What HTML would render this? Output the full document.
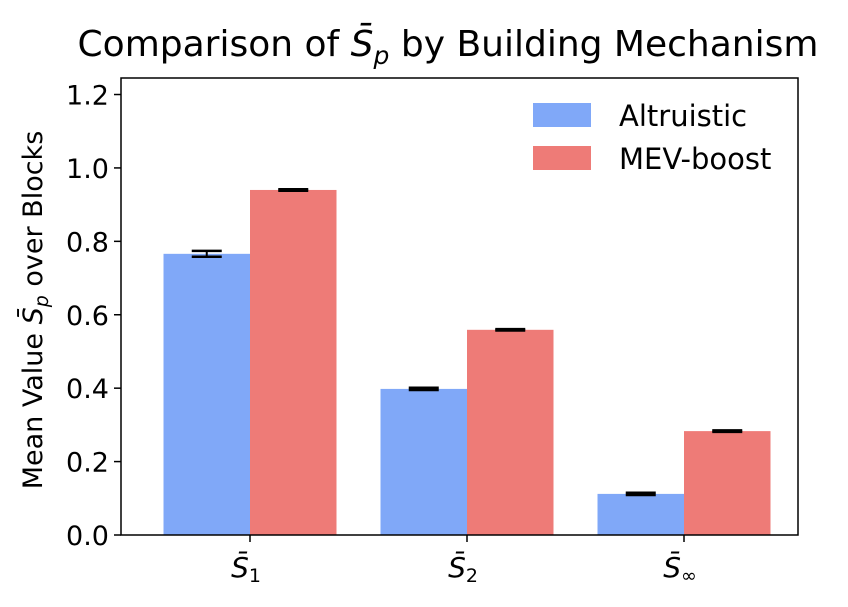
<!DOCTYPE html>
<html><head><meta charset="utf-8"><style>
body{margin:0;background:#fff;}
svg text{font-family:"DejaVu Sans","Liberation Sans",sans-serif;fill:#000;}
</style></head><body>
<svg id="chart" width="848" height="602" viewBox="0 0 848 602">
<text x="448" y="56" font-size="36" text-anchor="middle">Comparison of <tspan font-style="italic">S̄</tspan><tspan font-size="25" dy="8" font-style="italic">p</tspan><tspan dy="-8"> by Building Mechanism</tspan></text>
<g id="plot"></g>
<text transform="translate(42,310) rotate(-90)" font-size="27" text-anchor="middle">Mean Value <tspan font-style="italic">S̄</tspan><tspan font-size="19" dy="6" font-style="italic">p</tspan><tspan dy="-6"> over Blocks</tspan></text>
<g>
<rect x="533" y="103" width="58" height="24" fill="#80a8f8"/>
<text x="619" y="126" font-size="29">Altruistic</text>
<rect x="533" y="146" width="58" height="24" fill="#ee7b77"/>
<text x="619" y="169" font-size="29">MEV-boost</text>
</g>
</svg>
<script>
const categories=["S̄1","S̄2","S̄∞"];
const catMain=["S̄","S̄","S̄"];
const catSub=["1","2","∞"];
const altruistic=[0.766,0.398,0.112];
const altErr=[0.008,0.003,0.003];
const mevBoost=[0.940,0.559,0.283];
const mevErr=[0.002,0.002,0.002];
const yTicks=[0.0,0.2,0.4,0.6,0.8,1.0,1.2];
const L=121,R=798,T=78,B=535,yMax=1.245;
const y=v=>B-(v/yMax)*(B-T);
const xc=i=>250+i*217;
const bw=86.5;
const ns="http://www.w3.org/2000/svg";
const g=document.getElementById('plot');
function mk(t,a){const e=document.createElementNS(ns,t);for(const k in a)e.setAttribute(k,a[k]);g.appendChild(e);return e;}
function bar(x,v,err,col,name){
 const r=mk('rect',{x:x,y:y(v),width:bw,height:B-y(v),fill:col});
 
 
 const cx=x+bw/2;
 const l=mk('line',{x1:cx,x2:cx,y1:y(v+err),y2:y(v-err),stroke:'#000','stroke-width':2});
 
 
 for(const e of [v+err,v-err]){
  const c=mk('line',{x1:cx-15,x2:cx+15,y1:y(e),y2:y(e),stroke:'#000','stroke-width':2.5});
  
  
 }
}
categories.forEach((c,i)=>{
 bar(xc(i)-bw,altruistic[i],altErr[i],'#80a8f8','bar-altruistic-'+(i+1));
 bar(xc(i),mevBoost[i],mevErr[i],'#ee7b77','bar-mev-boost-'+(i+1));
 const tk=mk('line',{x1:xc(i),x2:xc(i),y1:B,y2:B+7,stroke:'#000','stroke-width':1.5});
 
 
 const t=mk('text',{x:xc(i)-4,y:B+42,'font-size':28,'text-anchor':'middle'});
 const m=document.createElementNS(ns,'tspan');m.setAttribute('font-style','italic');m.textContent=catMain[i];t.appendChild(m);
 const s=document.createElementNS(ns,'tspan');s.setAttribute('font-size',19);s.setAttribute('dy',5);s.textContent=catSub[i];t.appendChild(s);
 
 
});
yTicks.forEach(v=>{
 const tk=mk('line',{x1:L-7,x2:L,y1:y(v),y2:y(v),stroke:'#000','stroke-width':1.5});
 
 
 const t=mk('text',{x:L-12,y:y(v)+10,'font-size':27,'text-anchor':'end'});
 t.textContent=v.toFixed(1);
 
 
});
const fr=mk('rect',{x:L,y:T,width:R-L,height:B-T,fill:'none',stroke:'#000','stroke-width':1.5});


</script>
</body></html>
